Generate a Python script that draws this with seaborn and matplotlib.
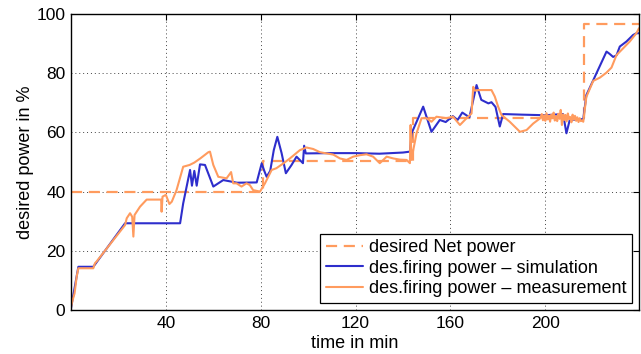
import matplotlib
matplotlib.use("Agg")
import matplotlib.pyplot as plt
import seaborn as sns
import pandas as pd
import numpy as np

# ---- data ----
t_des = [0, 81, 81, 144, 144, 216.5, 216.5, 239.5]
p_des = [40, 40, 50.5, 50.5, 65, 65, 96.5, 96.5]

t_sim = [0, 3.1, 9.4, 22.8, 46, 47.3, 50.2, 51, 52, 53, 54.4, 56.5, 60, 64.2, 70, 78.3,
         80.4, 81.5, 82.5, 84, 85.5, 87, 88.8, 90.6, 93, 95.1, 97.8, 98.3, 99, 110, 120,
         130, 140, 142.9, 143.6, 148.5, 152, 155.5, 158, 161, 163, 165, 168, 171, 173,
         176, 177.3, 179, 180.8, 182.2, 190, 200, 207.5, 208.9, 210.3, 216, 217.3, 225.8,
         227, 228.6, 230, 231.4, 234.2, 237, 238.4, 239.5]
p_sim = [0.6, 14.6, 14.6, 29.3, 29.3, 36, 47.3, 42, 47, 42, 49.2, 49, 41.7, 43.9, 43, 43.1,
         49.5, 47, 45, 47, 54, 58.5, 53, 46.2, 49, 51.8, 49.6, 55.5, 52.9, 53, 53,
         52.8, 53.2, 53.5, 59.7, 68.7, 60.2, 64.2, 63.5, 65.5, 64.2, 66.7, 65.1, 76, 71,
         69.8, 70.2, 68.6, 62, 66.2, 66, 65.8, 66.2, 59.7, 64.2, 64.5, 72.6, 87.3,
         86.6, 85.5, 86, 89, 90.7, 92.9, 93.5, 93.5]

t_meas = [0, 0.7, 1.5, 2.4, 3.1, 9.4, 10.1, 10.8, 22.8, 23.5, 24.9, 25.8, 26.3, 26.8,
          29.1, 31.9, 38.0, 38.2, 38.6, 40.0, 41.5, 42.5, 44.5, 47.3, 50, 52, 54.5, 57.9,
          58.6, 60, 62.1, 65.6, 67.5, 68.4, 69.8, 71.9, 74, 75.4, 76.8, 79.7, 81.8, 84.6,
          86.6, 89.5, 92.3, 96.5, 99.3, 102.1, 105, 107.8, 110.6, 113.4, 116.2, 119,
          121.8, 124.6, 127.4, 130.2, 133.1, 135.9, 138.7, 141.5, 142.9, 143.2, 143.5,
          145.7, 147.8, 149.9, 152, 154.1, 158.3, 161.1, 164, 166.8, 168.9, 169.6, 170.3,
          171.7, 177.3, 178.7, 180.1, 181.5, 185, 189.3, 192.1, 194.9, 197.7,
          198.0, 198.5, 199.0, 199.5, 200.0, 200.5, 201.0, 201.5, 202.0, 202.5, 203.0,
          203.5, 204.0, 204.5, 205.0, 205.5, 206.0, 206.5, 207.0, 207.5, 208.0, 208.5,
          209.0, 209.5, 210.0, 210.5, 211.0, 211.5, 212.0, 212.5, 213.0, 213.5, 214.0,
          214.5, 215.0, 215.5, 216.0,
          217.3, 220.2, 223, 225.8, 227.9, 230, 232.8, 235.6, 238.4, 239.5]
p_meas = [1, 3.4, 5.6, 11.3, 14.1, 14.1, 15.8, 16.4, 28.7, 31, 32.7, 31.5, 24.8, 32.1,
          34.9, 37.3, 37.3, 33.2, 38.3, 38.9, 35.8, 36.6, 40.5, 48.4, 49, 49.8, 51.2, 53.3,
          53.5, 49, 45, 44.5, 46.6, 42.8, 42.8, 41.7, 42.8, 42.2, 40.5, 40, 42.8, 47.3,
          47.9, 49.5, 51.2, 54, 54.9, 54.4, 53.3, 52.9, 52.5, 51.2, 50.7, 51.8,
          52.3, 52.6, 51.8, 49.6, 51.8, 51.2, 50.8, 50.7, 49.6, 62.5, 50.7,
          59.7, 64.8, 64.8, 63.6, 65.3, 64.8, 65.3, 62.5, 64.8, 66.4, 75.4, 74.1,
          74.3, 74.3, 72.1, 68.7, 65.9, 63.6, 60.2, 60.8, 63, 64.7,
          65.0, 66.2, 64.1, 65.8, 63.9, 66.5, 64.4, 65.7, 63.6, 66.0, 64.8,
          66.7, 64.0, 65.5, 63.8, 66.3, 64.6, 67.6, 62.5, 66.1, 64.2, 65.9,
          63.7, 66.4, 64.5, 65.2, 63.4, 66.0, 64.3, 65.6, 63.9, 65.1, 63.5,
          64.8, 63.8, 64.0, 63.6,
          72, 77.4, 78.5, 80.2, 81.9, 86.1, 88.4, 90.7, 93.5, 95.2]

x_ticks = [40, 80, 120, 160, 200]
y_ticks = [0, 20, 40, 60, 80, 100]
labels = ["desired Net power", "des.firing power \u2013 simulation",
          "des.firing power \u2013 measurement"]

ORANGE = "#ff9b5e"
BLUE = "#2e2ecc"

sns.set_theme(style="white")
plt.rcParams["font.family"] = ["Liberation Sans", "DejaVu Sans"]

fig = plt.figure(figsize=(6.41, 3.54), dpi=100)
ax = fig.add_axes([71 / 641, 44 / 354, 568 / 641, 296 / 354])

df_des = pd.DataFrame({"t": t_des, "p": p_des})
df_sim = pd.DataFrame({"t": t_sim, "p": p_sim})
df_meas = pd.DataFrame({"t": t_meas, "p": p_meas})

sns.lineplot(data=df_des, x="t", y="p", ax=ax, color=ORANGE, lw=1.6,
             dashes=False, sort=False, estimator=None, label=labels[0])
ax.lines[-1].set_linestyle((0, (5, 3)))
sns.lineplot(data=df_sim, x="t", y="p", ax=ax, color=BLUE, lw=1.5,
             sort=False, estimator=None, label=labels[1])
sns.lineplot(data=df_meas, x="t", y="p", ax=ax, color=ORANGE, lw=1.5,
             sort=False, estimator=None, label=labels[2])

ax.set_xlim(0, 239.5)
ax.set_ylim(0, 100)
ax.set_xticks(x_ticks)
ax.set_yticks(y_ticks)
ax.grid(True, linestyle=(0, (1, 3)), color="#444444", lw=0.7)
for s in ax.spines.values():
    s.set_color("black")
    s.set_linewidth(1.0)
ax.tick_params(direction="in", length=4, width=0.8, color="black",
               top=True, right=True, labelsize=12.5, pad=4, labelcolor="black")
ax.set_xlabel("time in min", fontsize=13, color="black", labelpad=3)
ax.set_ylabel("desired power in %", fontsize=13, color="black", labelpad=2)

leg = ax.legend(loc="lower right", fontsize=13, frameon=True, fancybox=False,
                edgecolor="black", framealpha=1, handlelength=2.1,
                labelspacing=0.2, borderaxespad=0.4, borderpad=0.3,
                handletextpad=0.3)
leg.get_frame().set_linewidth(0.9)
for txt in leg.get_texts():
    txt.set_color("black")

fig.savefig("out.png", dpi=100)
